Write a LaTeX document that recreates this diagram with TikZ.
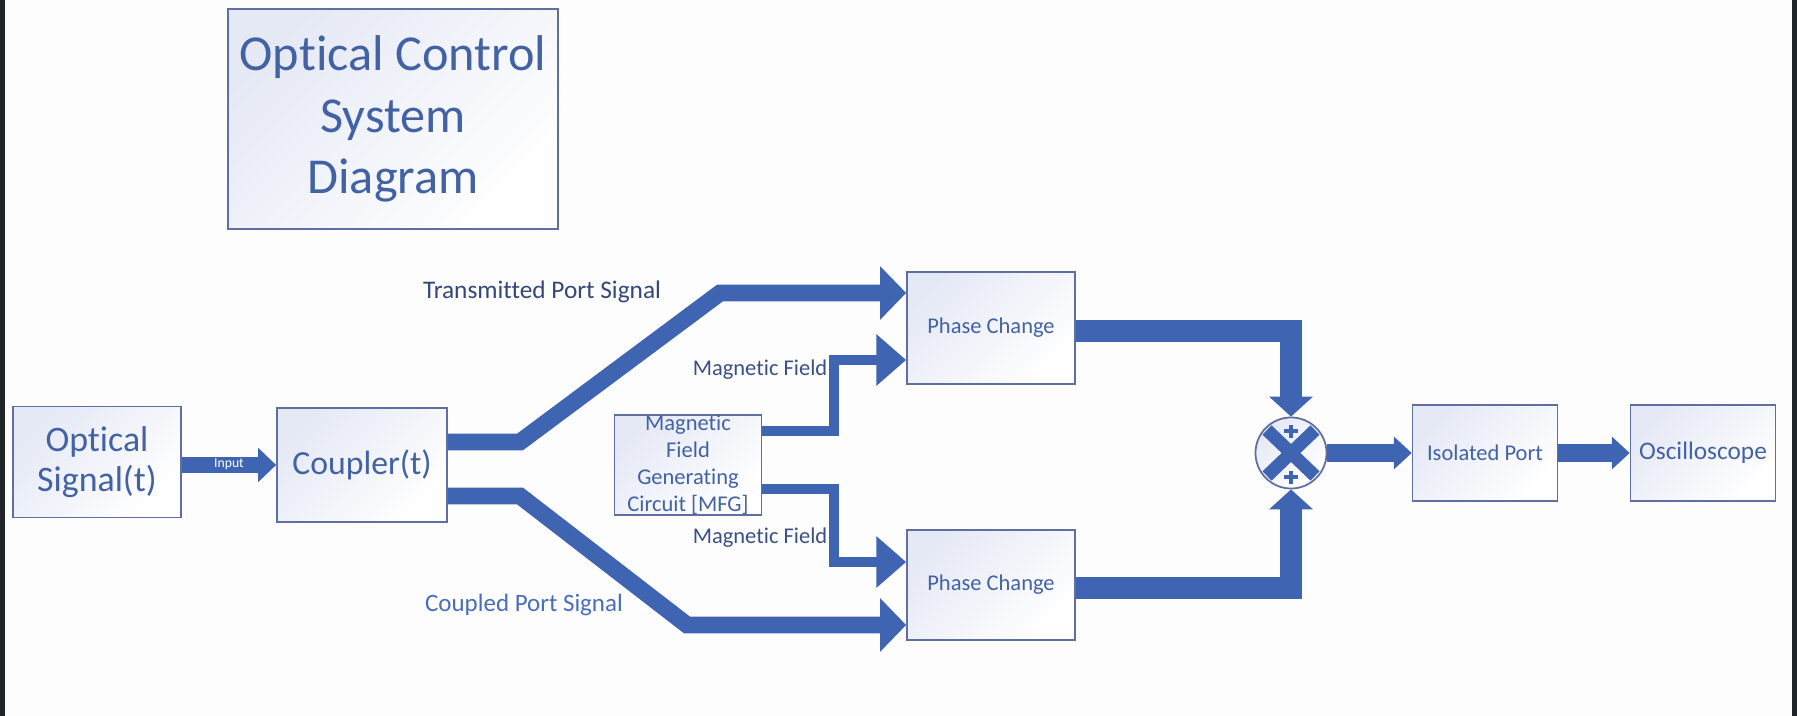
\documentclass[tikz,border=0pt]{standalone}
\usepackage{fontspec}
\setmainfont{Carlito}[Ligatures=CommonOff]
\usetikzlibrary{arrows.meta,positioning,calc}
\definecolor{flowblue}{RGB}{63,100,177}
\definecolor{labelblue}{RGB}{66,98,164}
\definecolor{navytext}{RGB}{52,72,120}
\definecolor{fieldtext}{RGB}{58,80,135}
\definecolor{lighttext}{RGB}{72,110,185}
\definecolor{boxedge}{RGB}{95,112,160}
\definecolor{boxtint}{RGB}{229,233,245}
\definecolor{pagebg}{RGB}{253,253,253}
\definecolor{frameside}{RGB}{31,37,40}

\begin{document}
\begin{tikzpicture}[x=0.01cm, y=-0.01cm,
    block/.style={draw=boxedge, line width=0.45pt, top color=boxtint, bottom color=white,
      shading angle=45, align=center, text=labelblue, inner sep=0pt},
    sig/.style={draw=flowblue, line width=4.8pt, -{Triangle[length=7.4pt,width=14.8pt]}},
    field/.style={draw=flowblue, line width=3.1pt, -{Triangle[length=8.5pt,width=14.2pt]}},
    sumin/.style={draw=flowblue, line width=6pt, -{Triangle[length=5.7pt,width=12.2pt]}},
    outarrow/.style={draw=flowblue, line width=5.4pt, -{Triangle[length=5.1pt,width=9.1pt]}},
    inarrow/.style={draw=flowblue, line width=4.3pt, -{Triangle[length=5.1pt,width=9.4pt]}},
    small/.style={font=\fontsize{6.4}{7.7}\selectfont}]
  % page and screen edges
  \useasboundingbox (0,0) rectangle (1797,716);
  \fill[pagebg] (0,0) rectangle (1797,716);
  \fill[frameside] (0,0) rectangle (5,716);
  \fill[frameside] (1792,0) rectangle (1797,716);

  % title
  \node[block, minimum width=3.3cm, minimum height=2.2cm,
    font=\fontsize{14.3}{17.4}\selectfont] (title) at (393,119)
    {Optical Control\\System\\Diagram};

  % blocks
  \node[block, minimum width=1.68cm, minimum height=1.11cm,
    font=\fontsize{10.2}{11.4}\selectfont] (optsig) at (97,462) {Optical\\Signal(t)};
  \node[block, minimum width=1.70cm, minimum height=1.14cm,
    font=\fontsize{9.6}{11}\selectfont] (coupler) at (362,465) {Coupler(t)};
  \node[block, small, minimum width=1.47cm, minimum height=0.95cm] (mfg) at (688,465)
    {Magnetic\\Field\\Generating\\Circuit [MFG]};
  \node[block, small, minimum width=1.68cm, minimum height=1.12cm] (phase1) at (991,328) {Phase Change};
  \node[block, small, minimum width=1.68cm, minimum height=1.10cm] (phase2) at (991,585) {Phase Change};
  \node[block, small, minimum width=1.45cm, minimum height=0.96cm] (iso) at (1485,453) {Isolated Port};
  \node[block, minimum width=1.45cm, minimum height=0.96cm,
    font=\fontsize{7.2}{8.6}\selectfont] (scope) at (1703,453) {Oscilloscope};

  % summing junction
  \node[circle, draw=boxedge, line width=0.5pt, top color=boxtint, bottom color=white,
    shading angle=45, minimum size=0.71cm, inner sep=0pt] (sum) at (1291,453) {};
  \draw[flowblue, line width=3.7pt] ([shift={(-24,-23)}]sum.center) -- ([shift={(24,23)}]sum.center);
  \draw[flowblue, line width=3.7pt] ([shift={(-24,23)}]sum.center) -- ([shift={(24,-23)}]sum.center);
  \draw[flowblue, line width=1.2pt] ([shift={(-7,-22)}]sum.center) -- ++(14,0)
    ([shift={(0,-28)}]sum.center) -- ++(0,13);
  \draw[flowblue, line width=1.2pt] ([shift={(-7,24)}]sum.center) -- ++(14,0)
    ([shift={(0,18)}]sum.center) -- ++(0,13);

  % signal paths
  \draw[inarrow] (optsig.east |- 0,465) -- (coupler.west |- 0,465);
  \node[text=white, font=\fontsize{3.9}{4.5}\selectfont] (inlbl) at (229,464) {Input};
  \draw[sig] (coupler.east |- 0,442) -- (520,442) -- (720,293) -- (phase1.west |- 0,293);
  \draw[sig] (coupler.east |- 0,496) -- (520,496) -- (687,625) -- (phase2.west |- 0,625);
  \draw[field] (mfg.east |- 0,431) -- (834,431) -- (834,360) -- (phase1.west |- 0,360);
  \draw[field] (mfg.east |- 0,489) -- (834,489) -- (834,562) -- (phase2.west |- 0,562);
  \draw[sumin] (phase1.east |- 0,331) -- (1291,331) -- (sum.north);
  \draw[sumin] (phase2.east |- 0,588) -- (1291,588) -- (sum.south);
  \draw[outarrow] (sum.east) -- (iso.west);
  \draw[outarrow] (iso.east) -- (scope.west);

  % path labels
  \node[text=navytext, font=\fontsize{7.2}{8.6}\selectfont] (lbltx) at (542,292) {Transmitted Port Signal};
  \node[text=lighttext, font=\fontsize{7.1}{8.5}\selectfont] (lblcp) at (524,605) {Coupled Port Signal};
  \node[text=fieldtext, small, anchor=east, inner sep=0pt] (lblmf1) at (828,370) {Magnetic Field};
  \node[text=fieldtext, small, anchor=east, inner sep=0pt] (lblmf2) at (828,538) {Magnetic Field};
\end{tikzpicture}
\end{document}
